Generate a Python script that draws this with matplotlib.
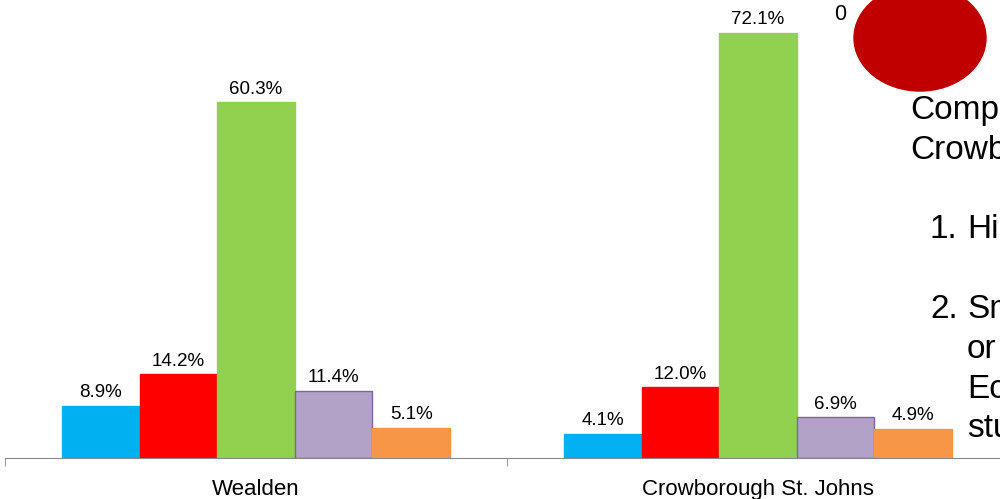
import matplotlib.pyplot as plt
import numpy as np
from matplotlib.patches import Ellipse

plt.rcParams["font.family"] = ["Liberation Sans", "DejaVu Sans"]

areas = ["Wealden", "Crowborough St. Johns"]
series_colors = ["#00B0F0", "#FF0000", "#92D050", "#B3A2C7", "#F79646"]
series_edges = ["#00B0F0", "#FF0000", "#92D050", "#8064A2", "#F79646"]
values = [
    [8.9, 4.1],
    [14.2, 12.0],
    [60.3, 72.1],
    [11.4, 6.9],
    [5.1, 4.9],
]

side_lines = ["Comp", "Crowb", "", "1. Hi", "", "2. Sm", "or", "Ec", "stu"]

W, H = 1000, 499


def main():
    fig = plt.figure(figsize=(W / 100, H / 100), dpi=100)
    # axes runs off the right edge, the slide was cropped
    ax = fig.add_axes([5 / W, (H - 458) / H, 1004 / W, 454 / H])

    x = np.arange(len(areas))
    width = 0.1545
    for i, vals in enumerate(values):
        pos = x + (i - 2) * width
        bars = ax.bar(pos, vals, width, color=series_colors[i],
                      edgecolor=series_edges[i], linewidth=1)
        for b, v in zip(bars, vals):
            ax.text(b.get_x() + b.get_width() / 2, v + 0.8, "%.1f%%" % v,
                    ha="center", va="bottom", fontsize=13.5, color="black")

    ax.set_xlim(-0.5, 1.5)
    ax.set_ylim(0, 77)

    for s in ["top", "right", "left"]:
        ax.spines[s].set_visible(False)
    ax.spines["bottom"].set_color("#888888")
    ax.yaxis.set_visible(False)

    ax.set_xticks(x)
    ax.set_xticklabels(areas, fontsize=16)
    ax.tick_params(axis="x", which="major", length=0, pad=15)
    ax.set_xticks([-0.5, 0.5, 1.5], minor=True)
    ax.tick_params(axis="x", which="minor", length=6, color="#888888")

    # red blob and the cut-off slide text on the right
    fig.add_artist(Ellipse((920 / W, 1 - 38 / H), 132 / W, 106 / H,
                           transform=fig.transFigure, color="#C00000"))
    fig.text(840 / W, 1 - 15 / H, "0", fontsize=15.5, ha="center", va="center")

    for k, line in enumerate(side_lines):
        if not line:
            continue
        y = 1 - (119 + k * 39.8) / H
        if line[0].isdigit():
            fig.text(930 / W, y, line[:2], fontsize=24, va="baseline")
            fig.text(967 / W, y, line[3:], fontsize=24, va="baseline")
        elif k > 5:
            fig.text(967 / W, y, line, fontsize=24, va="baseline")
        else:
            fig.text(910 / W, y, line, fontsize=24, va="baseline")

    plt.savefig("out.png", dpi=100)


if __name__ == "__main__":
    main()
